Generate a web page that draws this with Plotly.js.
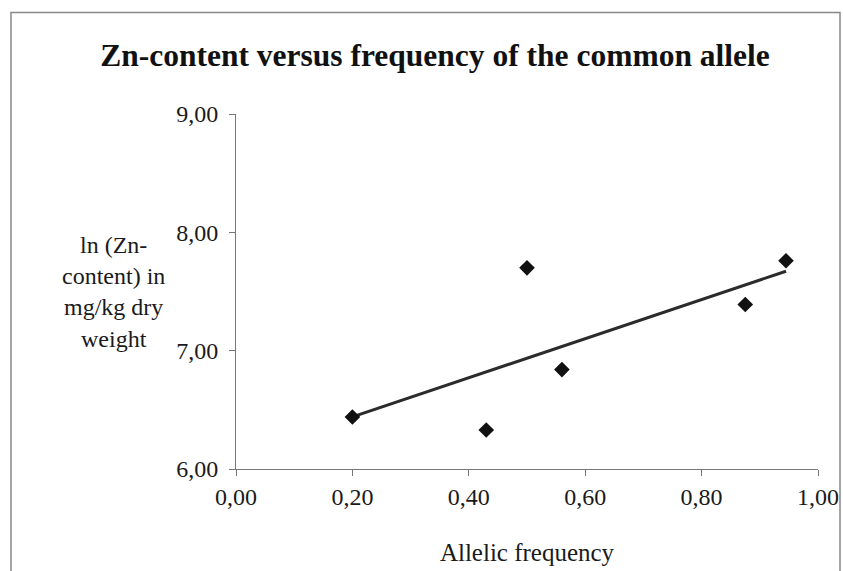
<!DOCTYPE html>
<html>
<head>
<meta charset="utf-8">
<script src="https://cdn.plot.ly/plotly-3.0.1.min.js"></script>
<style>
html,body{margin:0;padding:0;background:#fff;}
#chart{width:843px;height:571px;}
</style>
</head>
<body>
<div id="chart"></div>
<script>
// Data
const allelicFrequency = [0.20, 0.43, 0.50, 0.56, 0.875, 0.945];
const lnZnContent = [6.44, 6.33, 7.70, 6.84, 7.39, 7.76];
const xTicks = [0, 0.2, 0.4, 0.6, 0.8, 1.0];
const yTicks = [6, 7, 8, 9];

// Least-squares trendline from the data
const n = allelicFrequency.length;
const mx = allelicFrequency.reduce((a, b) => a + b, 0) / n;
const my = lnZnContent.reduce((a, b) => a + b, 0) / n;
let sxy = 0, sxx = 0;
for (let i = 0; i < n; i++) {
  sxy += (allelicFrequency[i] - mx) * (lnZnContent[i] - my);
  sxx += (allelicFrequency[i] - mx) ** 2;
}
const slope = sxy / sxx;
const intercept = my - slope * mx;
const xMin = Math.min(...allelicFrequency), xMax = Math.max(...allelicFrequency);
const trendX = [xMin, xMax];
const trendY = trendX.map(x => intercept + slope * x);

const font = 'Liberation Serif, Times New Roman, serif';

const traces = [
  {
    x: trendX, y: trendY, type: 'scatter', mode: 'lines',
    line: {color: '#2b2b2b', width: 3}, hoverinfo: 'skip', showlegend: false
  },
  {
    x: allelicFrequency, y: lnZnContent, type: 'scatter', mode: 'markers',
    marker: {symbol: 'diamond', size: 12, color: '#111'}, showlegend: false
  }
];

const layout = {
  width: 843, height: 571,
  paper_bgcolor: '#fff', plot_bgcolor: '#fff',
  separators: ', ',
  margin: {l: 236, r: 25, t: 114, b: 102},
  font: {family: font, color: '#1a1a1a', size: 24},
  title: {
    text: '<b>Zn-content versus frequency of the common allele</b>',
    font: {family: font, size: 31.5, color: '#111'},
    x: 0.516, xanchor: 'center', xref: 'container', y: 0.903, yanchor: 'middle'
  },
  xaxis: {
    range: [0, 1], tickvals: xTicks, tickformat: '.2f',
    showgrid: false, zeroline: false, showline: true, linecolor: '#777', linewidth: 1,
    ticks: 'outside', ticklen: 6, tickcolor: '#777',
    tickfont: {family: font, size: 24, color: '#1a1a1a'},
    title: {text: 'Allelic frequency', font: {family: font, size: 25, color: '#1a1a1a'}, standoff: 34}
  },
  yaxis: {
    range: [6, 9], tickvals: yTicks, tickformat: '.2f',
    showgrid: false, zeroline: false, showline: true, linecolor: '#777', linewidth: 1,
    ticks: 'outside', ticklen: 6, tickcolor: '#777', ticklabelstandoff: 6,
    tickfont: {family: font, size: 24, color: '#1a1a1a'}
  },
  annotations: [{
    text: 'ln (Zn-<br>content) in<br>mg/kg dry<br>weight',
    xref: 'paper', yref: 'paper', x: -0.21, y: 0.5,
    xanchor: 'center', yanchor: 'middle', align: 'center', showarrow: false,
    font: {family: font, size: 24, color: '#1a1a1a'}
  }],
  shapes: [{
    type: 'rect', xref: 'paper', yref: 'paper',
    x0: -225/582, x1: (840-236)/582, y0: -0.5, y1: (469.3-12.5)/355.3,
    line: {color: '#888', width: 1.5}, fillcolor: 'rgba(0,0,0,0)', layer: 'below'
  }]
};

Plotly.newPlot('chart', traces, layout, {displayModeBar: false, staticPlot: true});
</script>
</body>
</html>
